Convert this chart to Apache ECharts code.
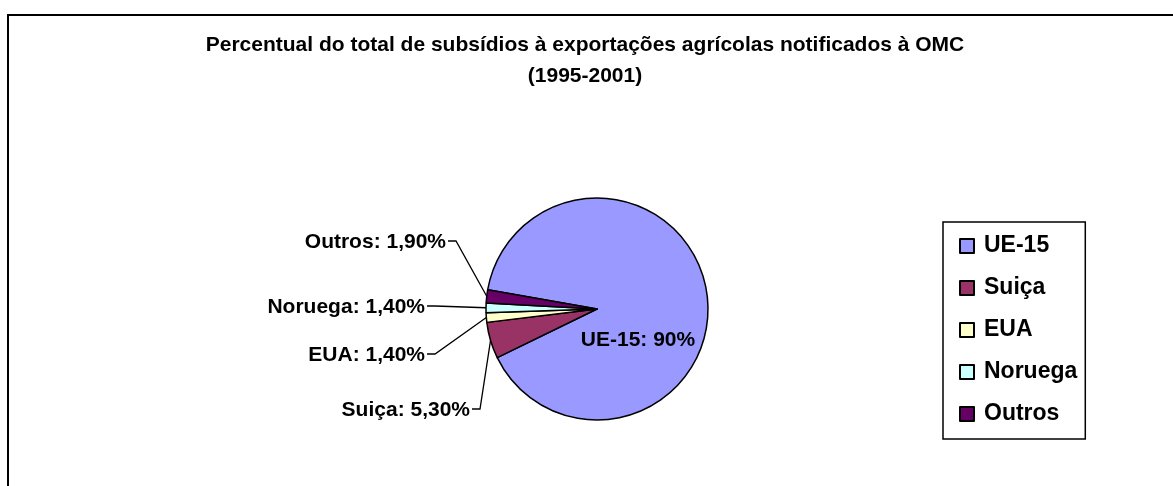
<!DOCTYPE html>
<html>
<head>
<meta charset="utf-8">
<script src="https://cdn.jsdelivr.net/npm/echarts@6/dist/echarts.min.js"></script>
<style>
  html, body { margin: 0; padding: 0; background: #fff; }
  #chart { width: 1173px; height: 486px; }
</style>
</head>
<body>
<div id="chart"></div>
<script>
const categories = ['UE-15', 'Suiça', 'EUA', 'Noruega', 'Outros']
const shares = [90, 5.3, 1.4, 1.4, 1.9]
const shareLabels = ['90%', '5,30%', '1,40%', '1,40%', '1,90%']
const sliceColors = ['#9999ff', '#993366', '#ffffcc', '#ccffff', '#660066']

const fontFamily = 'Liberation Sans, Arial, sans-serif'

// right end of each outside label, relative to the pie centre (Excel style)
const labelPlace = {
  1: { x: -127, y: 101 },
  2: { x: -172, y: 46 },
  3: { x: -172, y: -2 },
  4: { x: -151, y: -67 }
}

const chartInstance = echarts.init(document.getElementById('chart'))

const pieCenter = [597, 309]

chartInstance.setOption({
  animation: false,
  title: {
    text: 'Percentual do total de subsídios à exportações agrícolas notificados à OMC\n(1995-2001)',
    left: 580,
    top: 25,
    textAlign: 'center',
    textStyle: {
      fontFamily: fontFamily,
      fontSize: 21,
      fontWeight: 'bold',
      color: '#000',
      lineHeight: 31
    }
  },
  legend: {
    orient: 'vertical',
    left: 943,
    top: 222,
    padding: [12, 8, 13, 16],
    itemGap: 18,
    itemWidth: 14,
    itemHeight: 14,
    icon: 'rect',
    borderColor: '#000',
    borderWidth: 1.5,
    textStyle: {
      fontFamily: fontFamily,
      fontSize: 23,
      fontWeight: 'bold',
      color: '#000',
      lineHeight: 24,
      padding: [0, 0, 0, 5]
    },
    data: categories
  },
  graphic: [
    {
      type: 'rect',
      shape: { x: 8, y: 15, width: 1300, height: 600 },
      style: { fill: 'none', stroke: '#000', lineWidth: 2 },
      silent: true
    }
  ],
  series: [
    {
      type: 'pie',
      center: pieCenter,
      radius: 111,
      startAngle: 170,
      clockwise: true,
      avoidLabelOverlap: false,
      itemStyle: {
        borderColor: '#000',
        borderWidth: 1.5
      },
      label: {
        show: true,
        position: 'outside',
        fontFamily: fontFamily,
        fontSize: 21,
        fontWeight: 'bold',
        color: '#000',
        formatter: (p) => p.name + ': ' + shareLabels[p.dataIndex]
      },
      labelLine: {
        show: true,
        length: 10,
        length2: 10,
        lineStyle: { color: '#000', width: 1.3 }
      },
      labelLayout: (p) => {
        if (p.dataIndex === 0) {
          return { x: pieCenter[0] + 41, y: pieCenter[1] + 31, align: 'center', verticalAlign: 'middle' }
        }
        const place = labelPlace[p.dataIndex]
        const lx = pieCenter[0] + place.x
        const ly = pieCenter[1] + place.y
        const edge = p.labelLinePoints ? p.labelLinePoints[0] : [lx, ly]
        return {
          x: lx,
          y: ly,
          align: 'right',
          verticalAlign: 'middle',
          labelLinePoints: [edge, [lx + 10, ly - 1], [lx + 2, ly - 1]]
        }
      },
      data: categories.map((name, i) => ({
        name: name,
        value: shares[i],
        itemStyle: { color: sliceColors[i] },
        label: i === 0 ? { position: 'inside' } : {},
        labelLine: i === 0 ? { show: false } : {}
      }))
    }
  ]
})
</script>
</body>
</html>
